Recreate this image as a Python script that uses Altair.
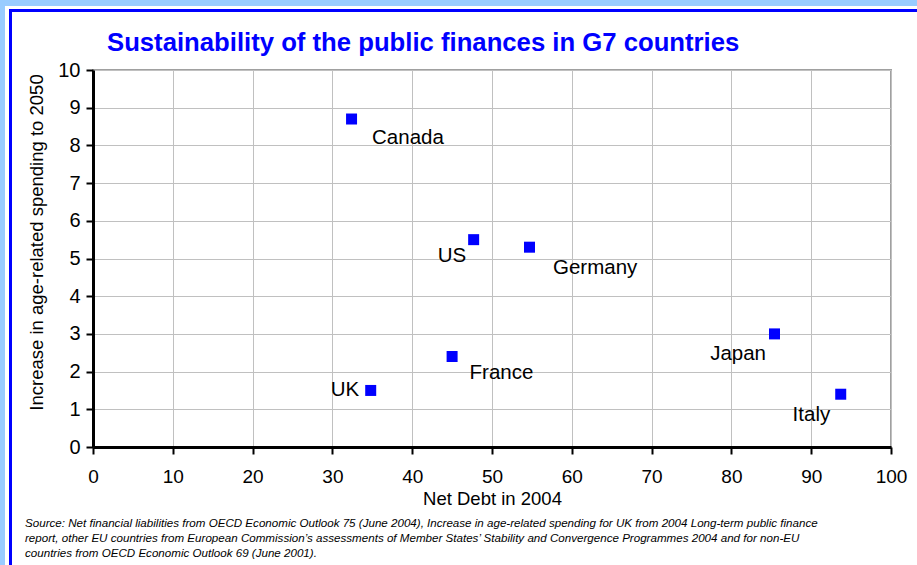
import altair as alt
import pandas as pd

# ---- data ----
countries = ["Canada", "US", "Germany", "France", "UK", "Japan", "Italy"]
net_debt = [32.4, 47.7, 54.7, 45.0, 34.8, 85.4, 93.7]
age_spending = [8.7, 5.5, 5.3, 2.4, 1.5, 3.0, 1.4]

x_ticks = list(range(0, 101, 10))
y_ticks = list(range(0, 11))

title_text = "Sustainability of the public finances in G7 countries"
x_title = "Net Debt in 2004"
y_title = "Increase in age-related spending to 2050"
source_lines = [
    "Source: Net financial liabilities from OECD Economic Outlook 75 (June 2004), Increase in age-related spending for UK from 2004 Long-term public finance",
    "report, other EU countries from European Commission\u2019s assessments of Member States\u2019 Stability and Convergence Programmes 2004 and for non-EU",
    "countries from OECD Economic Outlook 69 (June 2001).",
]

# label placement style (align, dx, dy) per country
label_style = {
    "Canada": ("left", 20.5, 24.5),
    "US": ("right", -7.5, 22.5),
    "Germany": ("left", 23.5, 26.5),
    "France": ("left", 17.5, 22.5),
    "UK": ("right", -11.5, 5.5),
    "Japan": ("right", -8.5, 26.5),
    "Italy": ("right", -10.5, 26.5),
}

FONT = "Liberation Sans"
W, H = 798, 377
PAD = {"left": 93, "top": 70, "right": 26, "bottom": 118}

df = pd.DataFrame({"country": countries, "debt": net_debt, "spend": age_spending})
one = pd.DataFrame({"k": [0]})

x_enc = alt.X(
    "debt:Q",
    scale=alt.Scale(domain=[0, 100], nice=False),
    axis=alt.Axis(values=x_ticks, title=x_title, labelFontSize=19, labelPadding=13,
                  labelFlush=False, labelOverlap=False, titleY=42, titleBaseline="top"),
)
y_enc = alt.Y(
    "spend:Q",
    scale=alt.Scale(domain=[0, 10], nice=False),
    axis=alt.Axis(values=y_ticks, title=y_title, labelFontSize=20, labelPadding=6,
                  labelFlush=False, labelOverlap=False, titleX=-47, titleY=172,
                  titleAngle=270, titleAnchor="middle"),
)

points = alt.Chart(df).mark_square(size=121, color="#0000FF", opacity=1).encode(x=x_enc, y=y_enc)

labels = []
for c in countries:
    al, dx, dy = label_style[c]
    labels.append(
        alt.Chart(df).transform_filter(alt.datum.country == c).mark_text(
            align=al, baseline="alphabetic", dx=dx, dy=dy, fontSize=20.5, font=FONT, color="black"
        ).encode(x=x_enc, y=y_enc, text="country:N")
    )

def rect(x1, x2, y1, y2, color):
    return alt.Chart(one).mark_rect(color=color).encode(
        x=alt.value(x1), x2=alt.value(x2), y=alt.value(y1), y2=alt.value(y2)
    )

frame = [
    rect(-93, -88, -70, 495, "#99CCFF"),
    rect(-93, 824, -70, -64, "#99CCFF"),
    rect(-84, -81, -61, 495, "#0000FF"),
    rect(-84, 824, -61, -58, "#0000FF"),
]

title = alt.Chart(one).mark_text(
    text=title_text, align="left", baseline="alphabetic", fontSize=25.7,
    fontWeight="bold", font=FONT, color="#0000FF",
).encode(x=alt.value(14), y=alt.value(-19.5))

source = alt.Chart(one).mark_text(
    text=source_lines, align="left", baseline="alphabetic", fontSize=11.6,
    fontStyle="italic", font=FONT, color="black", lineHeight=15,
).encode(x=alt.value(-68), y=alt.value(457))

chart = alt.layer(*frame, title, points, *labels, source).properties(
    width=W, height=H,
    autosize=alt.AutoSizeParams(type="none"),
    padding=PAD,
    background="white",
).configure_view(
    stroke="#A0A0A0", strokeWidth=2
).configure_axis(
    domainColor="black", domainWidth=3, tickColor="black", tickWidth=2, tickSize=7,
    gridColor="#C0C0C0", gridWidth=1, labelFont=FONT, labelColor="black",
    titleFont=FONT, titleColor="black", titleFontWeight="normal", titleFontSize=18.5,
)

chart.save("out.html", embed_options={"renderer": "svg", "actions": False})
